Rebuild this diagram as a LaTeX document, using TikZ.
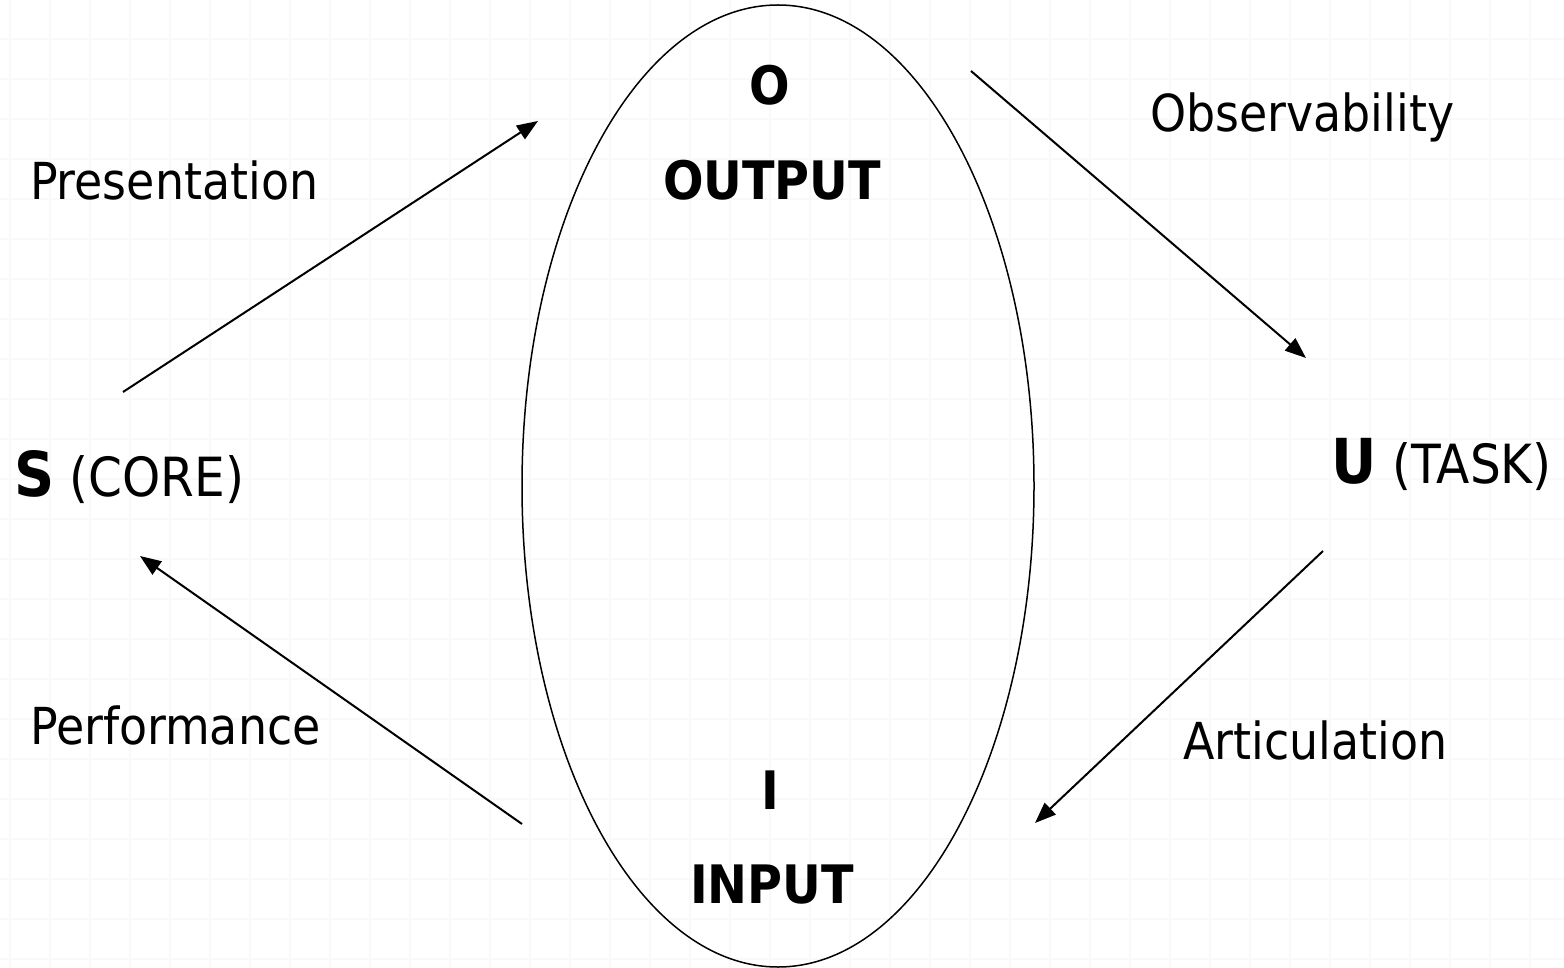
\documentclass[tikz,border=0pt]{standalone}
\usepackage{fontspec}
\setmainfont{DejaVu Sans Condensed}
\usetikzlibrary{arrows.meta,shapes.geometric}
\tikzset{
  lbl/.style={inner sep=0pt, font=\fontsize{51}{55}\selectfont},
  side/.style={inner sep=0pt, font=\fontsize{54}{58}\selectfont},
  big/.style={inner sep=0pt, font=\fontsize{53}{57}\selectfont\bfseries},
  flow/.style={line width=2pt, -{Triangle[length=21pt,width=16pt]}},
}
\newcommand{\keyletter}[1]{{\fontsize{62}{62}\selectfont\bfseries #1}}
\begin{document}
\begin{tikzpicture}[x=1pt,y=-1pt]
  \useasboundingbox (0,0) rectangle (1564,968);
  \fill[white] (0,0) rectangle (1564,968);
  % faint background grid
  \foreach \gx in {10,50,...,1570} \draw[black!2.5, line width=1.2pt] (\gx,0) -- (\gx,968);
  \foreach \gy in {39,79,...,968} \draw[black!2.5, line width=1.2pt] (0,\gy) -- (1564,\gy);

  % interface ellipse
  \node[draw, line width=1.5pt, ellipse, minimum width=512pt, minimum height=962pt, inner sep=0pt] (ifc) at (778,486) {};
  \node[big] (o) at (770,85) {O};
  \node[big] (out) at (772,180) {OUTPUT};
  \node[big] (i) at (770,790) {I};
  \node[big] (in) at (772,885) {INPUT};

  % system and user
  \node[side, anchor=base west] (s) at (14,496) {\keyletter{S} (CORE)};
  \node[side, anchor=base east] (u) at (1552,483) {\keyletter{U} (TASK)};

  % labels of the translations
  \node[lbl, anchor=west] (pres) at (30,180) {Presentation};
  \node[lbl, anchor=west] (obs) at (1150,117) {Observability};
  \node[lbl, anchor=west] (perf) at (30,725) {Performance};
  \node[lbl, anchor=west] (art) at (1183,740) {Articulation};

  % arrow end points
  \coordinate (p1) at (123,392);  \coordinate (p2) at (538,121);
  \coordinate (b1) at (971,71);   \coordinate (b2) at (1306,358);
  \coordinate (a1) at (1323,551); \coordinate (a2) at (1035,823);
  \coordinate (f1) at (522,824);  \coordinate (f2) at (140,556);

  \draw[flow] (p1) -- (p2);
  \draw[flow] (b1) -- (b2);
  \draw[flow] (a1) -- (a2);
  \draw[flow] (f1) -- (f2);
\end{tikzpicture}
\end{document}
